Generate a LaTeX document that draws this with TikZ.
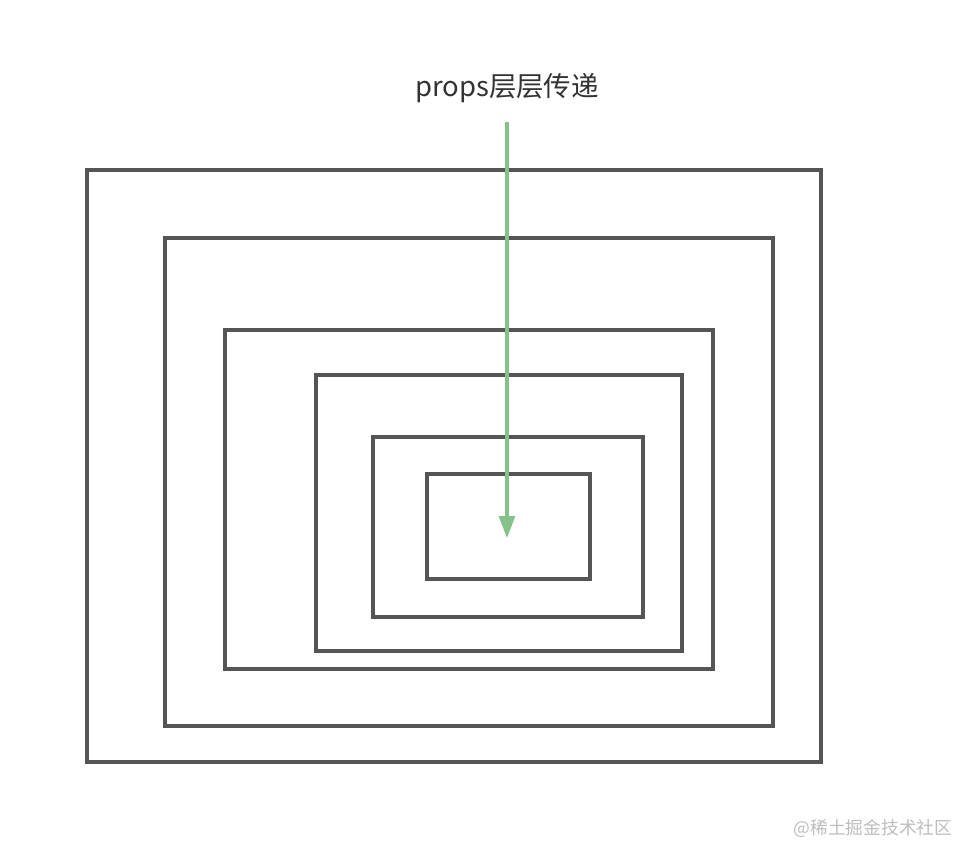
\documentclass[tikz,border=0pt]{standalone}
\usepackage{fontspec}
\newfontfamily\cjk{Noto Sans CJK SC}
\usetikzlibrary{arrows.meta}

\begin{document}
\begin{tikzpicture}[x=0.75pt,y=0.75pt,yscale=-1,xscale=1,
  box/.style={draw={rgb, 255:red, 85; green, 85; blue, 85}, line width=2.4pt},
  flow/.style={draw={rgb, 255:red, 133; green, 194; blue, 138}, line width=2.3pt,
    -{Triangle[length=16.5pt,width=12pt]}}]
   	%set diagram size 960 x 844
   	\useasboundingbox [fill=white] (0,0) rectangle (960,844);
   	
   	%nested boxes
   	\foreach \xa/\ya/\xb/\yb in {87/170/821/762, 165/238/773/726, 225/330/713/669,
   	  316/375/682/651, 373/437/643/617, 427/474/590/579}
   	  \draw [box] (\xa,\ya) rectangle (\xb,\yb) ;
   	
   	\node (lbl) [text={rgb, 255:red, 51; green, 51; blue, 51}] at (507,88) {\cjk\fontsize{20.6}{24}\selectfont props层层传递};
   	\coordinate (start) at (507,122);
   	\coordinate (tip) at (507,538);
   	\draw [flow] (start) -- (tip) ;
   	
   	\node (mark) [anchor=east, text={rgb, 255:red, 190; green, 190; blue, 190}] at (957,828) {\cjk\fontsize{13.3}{15}\selectfont @稀土掘金技术社区};
   	
\end{tikzpicture}
\end{document}
